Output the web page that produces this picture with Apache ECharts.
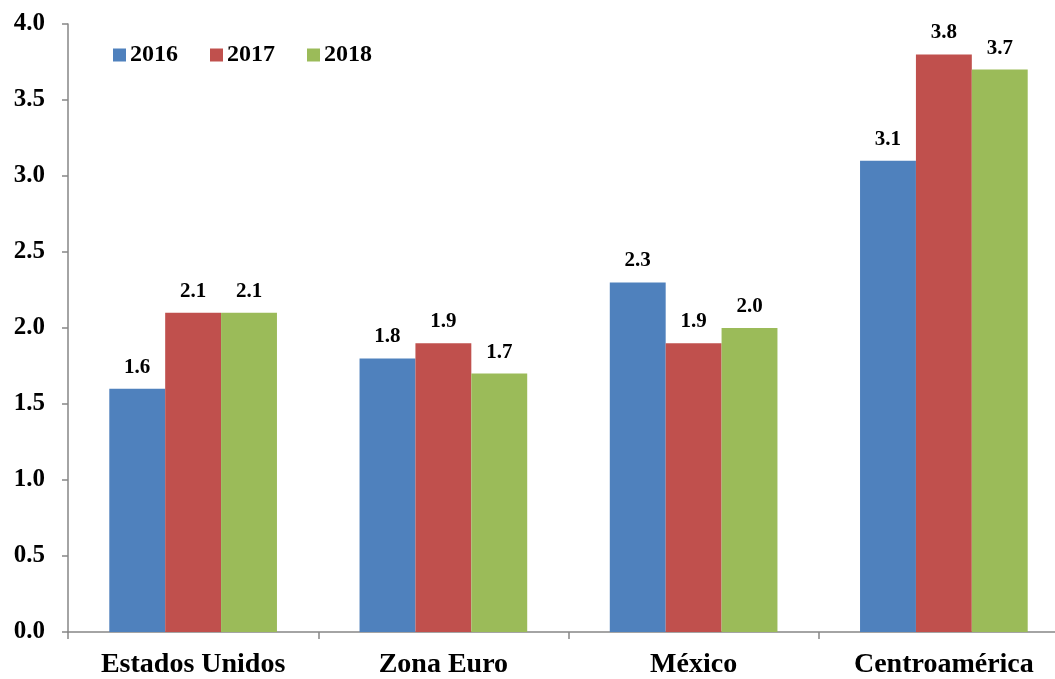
<!DOCTYPE html>
<html>
<head>
<meta charset="utf-8">
<script src="https://cdn.jsdelivr.net/npm/echarts@6/dist/echarts.min.js"></script>
<style>
    html, body { margin: 0; padding: 0; background: #fff; overflow: hidden; }
    #chart { width: 1069px; height: 679px; }
</style>
</head>
<body>
<div id="chart"></div>
<script>
// datos
var categorias = ["Estados Unidos", "Zona Euro", "México", "Centroamérica"];
var anios = ["2016", "2017", "2018"];
var v2016 = [1.6, 1.8, 2.3, 3.1];
var v2017 = [2.1, 1.9, 1.9, 3.8];
var v2018 = [2.1, 1.7, 2.0, 3.7];
var colores = ["#4F81BD", "#C0504D", "#9BBB59"];

(function () {
    var myChart = echarts.init(document.getElementById("chart"));
    var fuente = "'Liberation Serif', 'Times New Roman', serif";
    var valores = [v2016, v2017, v2018];

    var series = anios.map(function (anio, i) {
        return {
            name: anio,
            type: "bar",
            data: valores[i],
            barGap: "0%",
            barCategoryGap: "33%",
            itemStyle: { color: colores[i] },
            label: {
                show: true,
                position: "top",
                distance: 11,
                color: "#000",
                fontFamily: fuente,
                fontWeight: "bold",
                fontSize: 21,
                formatter: function (p) { return p.value.toFixed(1); }
            }
        };
    });

    var option = {
        animation: false,
        color: colores,
        legend: {
            left: 108,
            top: 38,
            itemWidth: 13,
            itemHeight: 13,
            itemGap: 32,
            icon: "rect",
            textStyle: {
                fontFamily: fuente,
                fontWeight: "bold",
                fontSize: 24,
                color: "#000",
                padding: [0, 0, 0, -1]
            }
        },
        grid: {
            left: 68,
            right: 0,
            top: 24,
            bottom: 45
        },
        xAxis: {
            type: "category",
            data: categorias,
            axisLine: { lineStyle: { color: "#868686", width: 1.5 } },
            axisTick: { show: true, length: 7, lineStyle: { color: "#868686", width: 1.5 } },
            axisLabel: {
                color: "#000",
                fontFamily: fuente,
                fontWeight: "bold",
                fontSize: 28,
                margin: 19
            }
        },
        yAxis: {
            type: "value",
            min: 0,
            max: 4,
            interval: 0.5,
            axisLine: { show: true, lineStyle: { color: "#868686", width: 1.5 } },
            axisTick: { show: true, length: 6, lineStyle: { color: "#868686", width: 1.5 } },
            splitLine: { show: false },
            axisLabel: {
                color: "#000",
                fontFamily: fuente,
                fontWeight: "bold",
                fontSize: 25,
                margin: 23,
                formatter: function (v) { return v.toFixed(1); }
            }
        },
        series: series
    };

    myChart.setOption(option);
    window.addEventListener("resize", function () {
        myChart.resize();
    });
})();
</script>
</body>
</html>
